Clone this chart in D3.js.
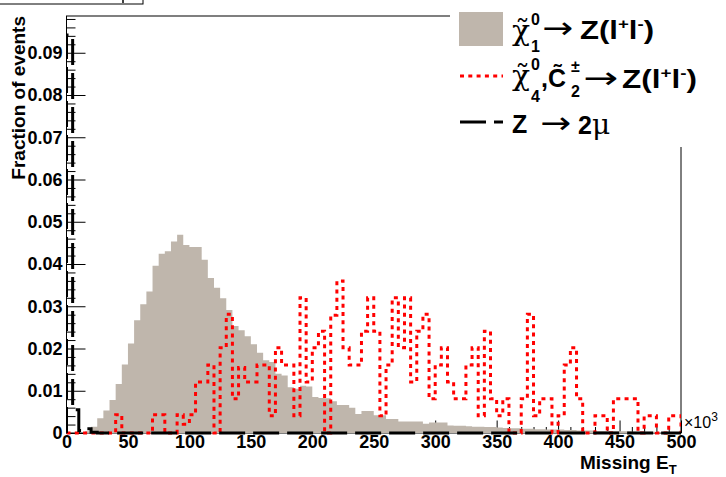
<!DOCTYPE html>
<html><head><meta charset="utf-8">
<script src="https://cdn.jsdelivr.net/npm/d3@7"></script>
<style>
body{margin:0;background:#fff;}
svg{display:block;font-family:"Liberation Sans",Arial,Helvetica,sans-serif;}
</style></head><body>
<svg id="chart" width="726" height="477"></svg>
<script>
// ---------- data ----------
const binWidth = 5;                       // bin width (x10^3)
const binLow = d3.range(0, 500, binWidth); // lower bin edges, 100 bins

// chi1^0 -> Z(l+l-)  (filled grey)
const chi1Values = [
 0,0,0,0.0004,0.0015,0.0035,0.0053,0.0078,0.0116,0.0162,
 0.0212,0.0267,0.0305,0.0335,0.0396,0.0424,0.0430,0.0453,0.0469,0.0445,
 0.0440,0.0440,0.0410,0.0367,0.0344,0.0319,0.0291,0.0253,0.0243,0.0229,
 0.0210,0.0190,0.0172,0.0168,0.0140,0.0136,0.0108,0.0105,0.0112,0.0110,
 0.0085,0.0083,0.0082,0.0075,0.0066,0.0066,0.0060,0.0045,0.0052,0.0052,
 0.0042,0.0042,0.0033,0.0033,0.0027,0.0027,0.0027,0.0027,0.0022,0.0025,
 0.0025,0.0025,0.0018,0.0017,0.0017,0.0016,0.0015,0.0015,0.0014,0.0014,
 0.0013,0.0012,0.0011,0.0011,0.0010,0.0010,0.0009,0.0009,0.0008,0.0008,
 0.0008,0.0007,0.0007,0.0006,0.0006,0.0006,0.0005,0.0005,0.0005,0.0004,
 0.0004,0.0004,0.0003,0.0003,0.0003,0.0003,0.0002,0.0002,0.0002,0.0002];

// chi4^0, C2^± -> Z(l+l-)  (red dotted)
const chi4Values = [
 0,0,0,0,0,0,0,0,0.0043,0,
 0,0,0,0,0.0043,0.0043,0,0,0.0043,0.0021,
 0.0043,0.0121,0.0121,0.0161,0,0.0202,0.0281,0.0081,0.0155,0.0121,
 0.0121,0.0161,0.0161,0.0041,0.0202,0.0161,0.0161,0.0041,0.0320,0.0121,
 0.0202,0.0241,0,0.0279,0.0360,0.0202,0.0161,0.0161,0.0241,0.0320,
 0.0241,0.0041,0.0161,0.0320,0.0202,0.0320,0.0121,0.0241,0.0281,0.0081,
 0.0161,0.0202,0.0121,0.0081,0.0081,0.0161,0.0202,0.0041,0.0241,0.0081,
 0.0041,0.0081,0,0,0.0081,0.0281,0.0041,0.0081,0.0081,0,
 0.0041,0.0161,0.0202,0.0081,0,0,0.0041,0.0041,0,0.0081,
 0.0081,0.0081,0.0081,0,0.0041,0.0041,0,0,0.0041,0.0041];

// Z -> 2mu  (black long-dashed)
const zmumuValues = [
 0.0942,0.0055,0.0006,0.0010,0.0002,0,0,0,0,0,
 0,0,0,0,0,0,0,0,0,0, 0,0,0,0,0,0,0,0,0,0,
 0,0,0,0,0,0,0,0,0,0, 0,0,0,0,0,0,0,0,0,0,
 0,0,0,0,0,0,0,0,0,0, 0,0,0,0,0,0,0,0,0,0,
 0,0,0,0,0,0,0,0,0,0, 0,0,0,0,0,0,0,0,0,0,
 0,0,0,0,0,0,0,0,0,0];

const xMajorTicks = [0,50,100,150,200,250,300,350,400,450,500];
const xTickLabels = ["0","50","100","150","200","250","300","350","400","450","500"];
const xMinorTicks = d3.range(10, 500, 10).filter(v => v % 50 !== 0);
const yMajorTicks = [0,0.01,0.02,0.03,0.04,0.05,0.06,0.07,0.08,0.09];
const yTickLabels = ["0","0.01","0.02","0.03","0.04","0.05","0.06","0.07","0.08","0.09"];
const yMinorTicks = d3.range(1, 50).map(i => i * 0.002).filter((v, i) => (i + 1) % 5 !== 0);

const yTitle = "Fraction of events";
const xTitle = "Missing E";
const xTitleSub = "T";
const xExponentBase = "×10";
const xExponent = "3";

// ---------- layout ----------
const W = 726, H = 477;
const L = 66.5, R = 681, T = 16, B = 433;
const svg = d3.select("#chart");
const x = d3.scaleLinear().domain([0, 500]).range([L, R]);
const y = d3.scaleLinear().domain([0, 0.0987]).range([B, T]);
const FONT = '"Liberation Sans",Arial,Helvetica,sans-serif';
const SERIF = '"DejaVu Serif","Liberation Serif",serif';
const ARROWF = '"DejaVu Sans",sans-serif';

svg.append("defs").append("clipPath").attr("id", "frameClip")
  .append("rect").attr("x", L).attr("y", 0).attr("width", R - L).attr("height", H);

// title box fragment at top-left
svg.append("rect").attr("x", -1).attr("y", -1).attr("width", 144).attr("height", 5)
  .attr("fill", "#fff").attr("stroke", "#000").attr("stroke-width", 1);
svg.append("line").attr("x1", 123).attr("x2", 123).attr("y1", 0).attr("y2", 3)
  .attr("stroke", "#000").attr("stroke-width", 1.5);

// frame
svg.append("rect").attr("x", L).attr("y", T).attr("width", R - L).attr("height", B - T)
  .attr("fill", "none").attr("stroke", "#000").attr("stroke-width", 1);

// axes (ticks inside the frame)
function styleAxis(g) {
  g.select(".domain").remove();
  g.selectAll(".tick line").attr("stroke", "#000").attr("stroke-width", 1);
  g.selectAll("text").attr("font-family", FONT).attr("font-weight", "bold")
    .attr("font-size", 18).attr("fill", "#000");
}
svg.append("g").attr("transform", `translate(${L},0)`)
  .call(d3.axisLeft(y).tickValues(yMinorTicks).tickSize(-9).tickFormat(""))
  .call(styleAxis);
svg.append("g").attr("transform", `translate(${L},0)`)
  .call(d3.axisLeft(y).tickValues(yMajorTicks).tickSizeInner(-19).tickSizeOuter(0)
    .tickPadding(4).tickFormat((d, i) => yTickLabels[i]))
  .call(styleAxis);
svg.append("g").attr("transform", `translate(0,${B})`)
  .call(d3.axisBottom(x).tickValues(xMinorTicks).tickSize(-6).tickFormat(""))
  .call(styleAxis);
svg.append("g").attr("transform", `translate(0,${B})`)
  .call(d3.axisBottom(x).tickValues(xMajorTicks).tickSizeInner(-12.5).tickSizeOuter(0)
    .tickPadding(2).tickFormat((d, i) => xTickLabels[i]))
  .call(styleAxis);

// ---------- histograms ----------
function stepPoints(vals) {
  const pts = [[0, 0]];
  vals.forEach((v, i) => { pts.push([binLow[i], v]); pts.push([binLow[i] + binWidth, v]); });
  pts.push([500, 0]);
  return pts;
}
const area = d3.area().x(d => x(d[0])).y0(y(0)).y1(d => y(d[1]));
const line = d3.line().x(d => x(d[0])).y(d => y(d[1]));
const hg = svg.append("g").attr("clip-path", "url(#frameClip)");

hg.append("path").attr("d", area(stepPoints(chi1Values)))
  .attr("fill", "#bfb6ac").attr("stroke", "none");
hg.append("path").attr("d", line(stepPoints(chi4Values)))
  .attr("fill", "none").attr("stroke", "#ff0000").attr("stroke-width", 3)
  .attr("stroke-dasharray", "4 4.3");
hg.append("path").attr("d", line(stepPoints(zmumuValues)))
  .attr("fill", "none").attr("stroke", "#000").attr("stroke-width", 3)
  .attr("stroke-dasharray", "26 8");

// ---------- axis titles ----------
svg.append("text").attr("transform", `translate(25,${T}) rotate(-90)`)
  .attr("text-anchor", "end").attr("font-family", FONT).attr("font-weight", "bold")
  .attr("font-size", 19).text(yTitle);

const xt = svg.append("text").attr("x", 580).attr("y", 469)
  .attr("font-family", FONT).attr("font-weight", "bold").attr("font-size", 19);
xt.append("tspan").text(xTitle);
xt.append("tspan").attr("font-size", 13).attr("dy", 5).text(xTitleSub);

const ex = svg.append("text").attr("x", 684).attr("y", 428)
  .attr("font-family", FONT).attr("font-size", 16);
ex.append("tspan").text(xExponentBase);
ex.append("tspan").attr("font-size", 12).attr("dy", -7).text(xExponent);

// ---------- legend ----------
const lg = svg.append("g");
lg.append("rect").attr("x", 450).attr("y", 0).attr("width", 276).attr("height", 147).attr("fill", "#fff");
lg.append("rect").attr("x", 459).attr("y", 12).attr("width", 44).attr("height", 34).attr("fill", "#bfb6ac");
lg.append("line").attr("x1", 460).attr("x2", 503).attr("y1", 76).attr("y2", 76)
  .attr("stroke", "#ff0000").attr("stroke-width", 3).attr("stroke-dasharray", "4 4.3");
lg.append("line").attr("x1", 460).attr("x2", 503).attr("y1", 122).attr("y2", 122)
  .attr("stroke", "#000").attr("stroke-width", 3).attr("stroke-dasharray", "26 8");

function piece(s, px, py, size, opt = {}) {
  const t = lg.append("text").attr("x", px).attr("y", py)
    .attr("font-family", opt.family || FONT)
    .attr("font-weight", opt.normal ? "normal" : "bold")
    .attr("font-size", size).text(s);
  if (opt.len) t.attr("textLength", opt.len).attr("lengthAdjust", "spacingAndGlyphs");
  return t;
}
function zll(px, py, len) {
  const t = lg.append("text").attr("x", px).attr("y", py).attr("font-family", FONT)
    .attr("font-weight", "bold").attr("font-size", 25)
    .attr("textLength", len).attr("lengthAdjust", "spacingAndGlyphs");
  t.append("tspan").text("Z(l");
  t.append("tspan").attr("font-size", 15).attr("dy", -10).text("+");
  t.append("tspan").attr("dy", 10).text("l");
  t.append("tspan").attr("font-size", 15).attr("dy", -10).text("-");
  t.append("tspan").attr("dy", 10).text(")");
}
// row 1: chi~_1^0 -> Z(l+l-)
piece("χ\u0303", 512, 40, 28, {family: SERIF, normal: true, len: 18});
piece("0", 531, 25, 16);
piece("1", 531, 52, 16);
piece("→", 542, 38, 30, {family: ARROWF, normal: true, len: 31});
zll(580, 39, 74);
// row 2: chi~_4^0, C~_2^± -> Z(l+l-)
piece("χ\u0303", 512, 85, 28, {family: SERIF, normal: true, len: 18});
piece("0", 531, 70, 16);
piece("4", 531, 102, 16);
piece(",", 541, 87, 25);
piece("C\u0303", 548, 87, 25, {len: 18});
piece("±", 571, 72, 16);
piece("2", 571, 97, 16);
piece("→", 583, 88, 30, {family: ARROWF, normal: true, len: 35});
zll(622, 88, 75);
// row 3: Z -> 2mu
piece("Z", 512, 133, 25);
piece("→", 540, 133, 30, {family: ARROWF, normal: true, len: 31});
piece("2", 578, 134, 25);
piece("μ", 592, 134, 28, {family: SERIF, normal: true});
</script>
</body></html>
